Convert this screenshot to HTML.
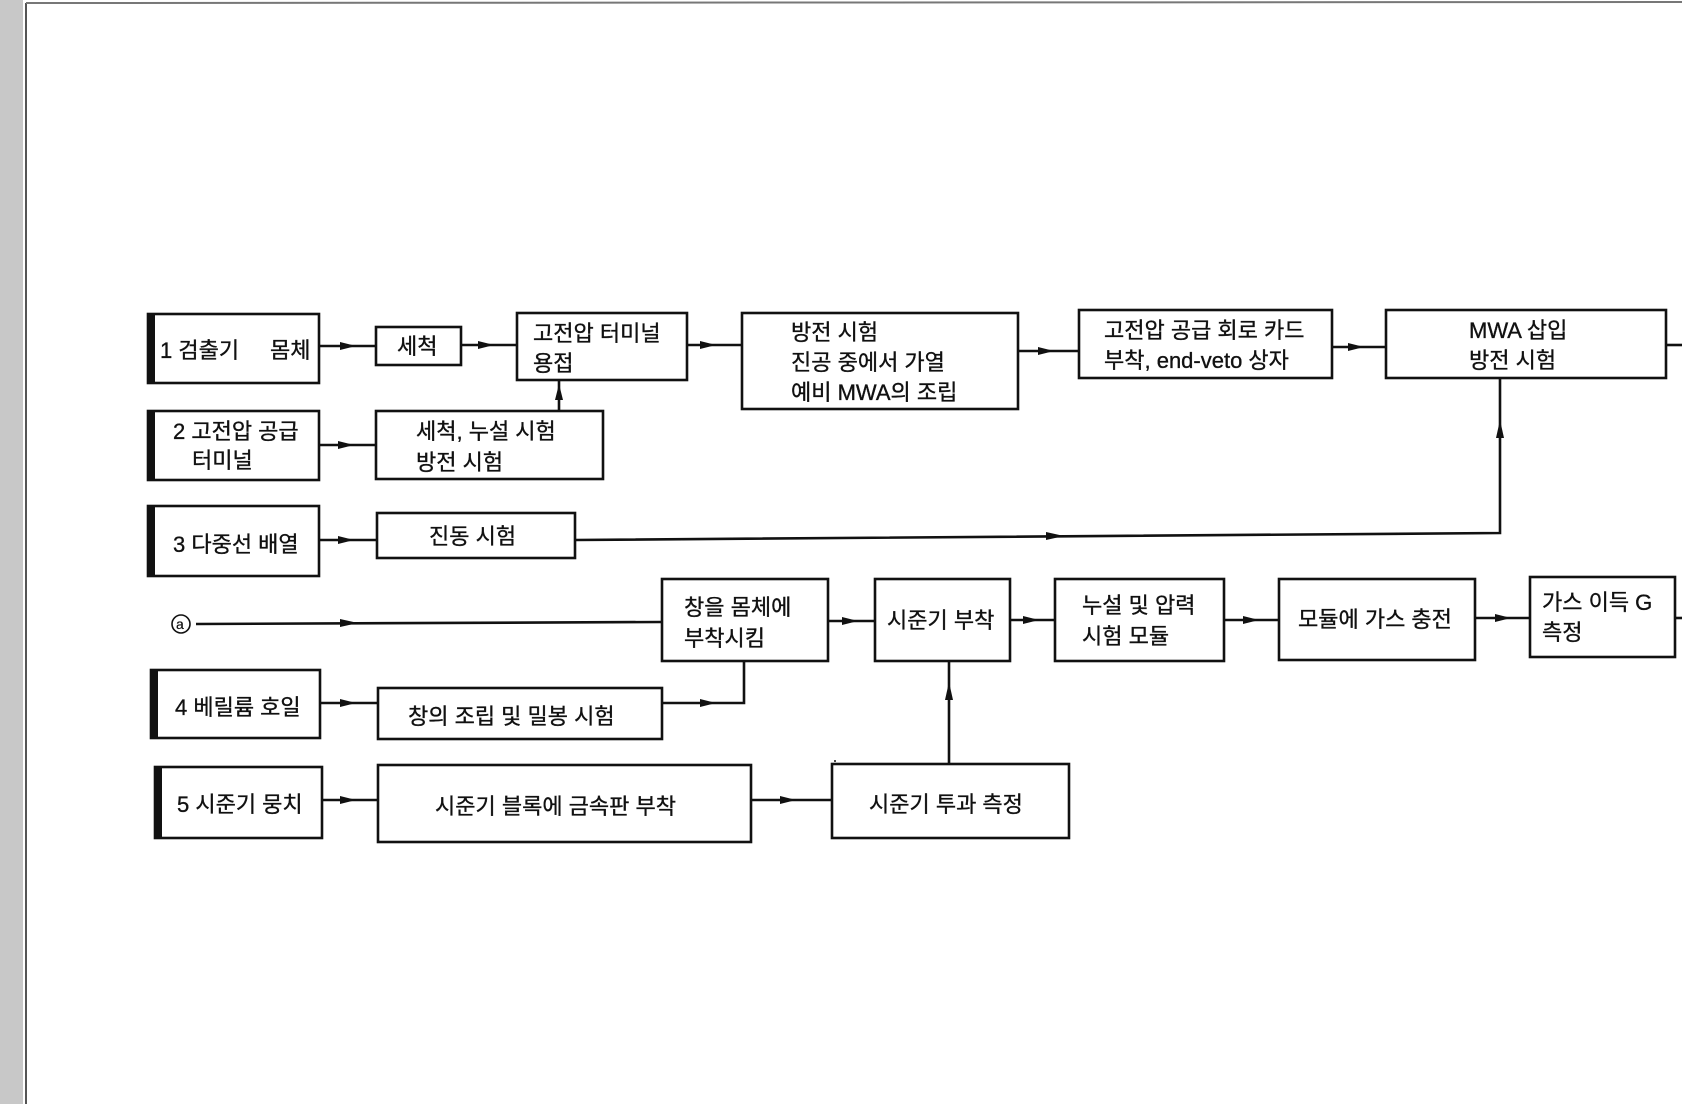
<!DOCTYPE html>
<html><head><meta charset="utf-8"><style>
html,body{margin:0;padding:0;background:#fff;}
svg{display:block;}
text{font-family:"Liberation Sans","Noto Sans CJK KR",sans-serif;font-size:22px;fill:#111;stroke:#111;stroke-width:0.35px;}
</style></head><body>
<svg width="1682" height="1104" viewBox="0 0 1682 1104" xmlns="http://www.w3.org/2000/svg">
<rect x="0" y="0" width="1682" height="1104" fill="#fff"/>
<rect x="0" y="0" width="23" height="1104" fill="#c8c8c8"/>
<line x1="26" y1="3" x2="26" y2="1104" stroke="#555" stroke-width="2"/>
<line x1="26" y1="3" x2="1682" y2="2" stroke="#777" stroke-width="2"/>
<g fill="none" stroke="#111" stroke-width="2.6">
<rect x="148" y="314" width="171" height="69"/>
<rect x="376" y="327" width="85" height="38"/>
<rect x="517" y="313" width="170" height="67"/>
<rect x="742" y="313" width="276" height="96"/>
<rect x="1079" y="310" width="253" height="68"/>
<rect x="1386" y="310" width="280" height="68"/>
<rect x="148" y="411" width="171" height="69"/>
<rect x="376" y="411" width="227" height="68"/>
<rect x="148" y="506" width="171" height="70"/>
<rect x="377" y="513" width="198" height="45"/>
<rect x="662" y="579" width="166" height="82"/>
<rect x="875" y="579" width="135" height="82"/>
<rect x="1055" y="579" width="169" height="82"/>
<rect x="1279" y="579" width="196" height="81"/>
<rect x="1530" y="577" width="145" height="80"/>
<rect x="151" y="670" width="169" height="68"/>
<rect x="378" y="688" width="284" height="51"/>
<rect x="155" y="767" width="167" height="71"/>
<rect x="378" y="765" width="373" height="77"/>
<rect x="832" y="764" width="237" height="74"/>
<line x1="319" y1="346" x2="376" y2="346"/>
<line x1="461" y1="345" x2="517" y2="345"/>
<line x1="687" y1="345" x2="742" y2="345"/>
<line x1="1018" y1="351" x2="1079" y2="351"/>
<line x1="1332" y1="347" x2="1386" y2="347"/>
<line x1="1666" y1="345" x2="1682" y2="345"/>
<line x1="319" y1="445" x2="376" y2="445"/>
<line x1="559" y1="411" x2="559" y2="380"/>
<line x1="319" y1="540" x2="377" y2="540"/>
<polyline points="575,540 1500,533 1500,378"/>
<line x1="196" y1="624" x2="662" y2="622"/>
<line x1="828" y1="621" x2="875" y2="621"/>
<line x1="1010" y1="620" x2="1055" y2="620"/>
<line x1="1224" y1="620" x2="1279" y2="620"/>
<line x1="1475" y1="618" x2="1530" y2="618"/>
<line x1="1675" y1="618" x2="1682" y2="618"/>
<line x1="320" y1="703" x2="378" y2="703"/>
<polyline points="662,703 744,703 744,661"/>
<line x1="322" y1="800" x2="378" y2="800"/>
<line x1="751" y1="800" x2="832" y2="800"/>
<line x1="949" y1="764" x2="949" y2="661"/>
<circle cx="181" cy="624" r="9" stroke-width="1.6"/>
</g>
<g fill="#111">
<rect x="147" y="313" width="8" height="71"/>
<rect x="147" y="410" width="8" height="71"/>
<rect x="147" y="505" width="8" height="72"/>
<rect x="150" y="669" width="8" height="70"/>
<rect x="154" y="766" width="8" height="73"/>
<polygon points="340,342 356,346 340,350"/>
<polygon points="478,341 494,345 478,349"/>
<polygon points="700,341 716,345 700,349"/>
<polygon points="1038,347 1054,351 1038,355"/>
<polygon points="1348,343 1364,347 1348,351"/>
<polygon points="338,441 354,445 338,449"/>
<polygon points="338,536 354,540 338,544"/>
<polygon points="1046,532 1064,536 1046,540"/>
<polygon points="340,619 358,623 340,627"/>
<polygon points="842,617 858,621 842,625"/>
<polygon points="1023,616 1039,620 1023,624"/>
<polygon points="1243,616 1259,620 1243,624"/>
<polygon points="1495,614 1511,618 1495,622"/>
<polygon points="340,699 356,703 340,707"/>
<polygon points="700,699 716,703 700,707"/>
<polygon points="340,796 356,800 340,804"/>
<polygon points="780,796 796,800 780,804"/>
<polygon points="555,400 559,384 563,400"/>
<polygon points="1496,438 1500,420 1504,438"/>
<polygon points="945,700 949,682 953,700"/>
<circle cx="835" cy="761" r="1"/>
</g>
<text x="176" y="629" style="font-size:14px;stroke-width:0.2px">a</text>
<text x="160" y="358">1 검출기</text>
<text x="270" y="358">몸체</text>
<text x="397" y="354">세척</text>
<text x="533" y="341">고전압 터미널</text>
<text x="533" y="371">용접</text>
<text x="791" y="340">방전 시험</text>
<text x="791" y="370">진공 중에서 가열</text>
<text x="791" y="400">예비 MWA의 조립</text>
<text x="1104" y="338">고전압 공급 회로 카드</text>
<text x="1104" y="368">부착, end-veto 상자</text>
<text x="1469" y="338">MWA 삽입</text>
<text x="1469" y="368">방전 시험</text>
<text x="173" y="439">2 고전압 공급</text>
<text x="192" y="468">터미널</text>
<text x="416" y="439">세척, 누설 시험</text>
<text x="416" y="470">방전 시험</text>
<text x="173" y="552">3 다중선 배열</text>
<text x="429" y="544">진동 시험</text>
<text x="684" y="615">창을 몸체에</text>
<text x="684" y="646">부착시킴</text>
<text x="887" y="628">시준기 부착</text>
<text x="1082" y="613">누설 및 압력</text>
<text x="1082" y="644">시험 모듈</text>
<text x="1298" y="627">모듈에 가스 충전</text>
<text x="1542" y="610">가스 이득 G</text>
<text x="1542" y="640">측정</text>
<text x="175" y="715">4 베릴륨 호일</text>
<text x="408" y="724">창의 조립 및 밀봉 시험</text>
<text x="177" y="812">5 시준기 뭉치</text>
<text x="435" y="814">시준기 블록에 금속판 부착</text>
<text x="869" y="812">시준기 투과 측정</text>
</svg>
</body></html>
